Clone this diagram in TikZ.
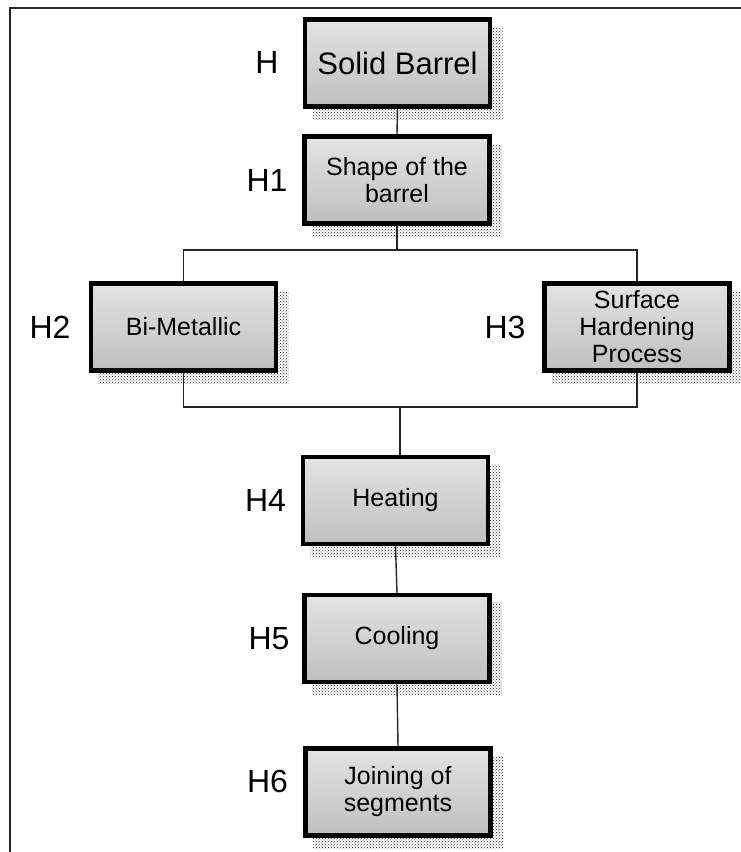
\documentclass[tikz,border=0pt]{standalone}
\usepackage{fontspec}
\setmainfont{Liberation Sans}
\usetikzlibrary{patterns}
\begin{document}
\begin{tikzpicture}[x=1pt,y=-1pt,
  hbox/.style={draw=black,line width=4.5pt,minimum width=185pt,minimum height=87pt,
    top color=gray!22,bottom color=gray!50,align=center,font=\fontsize{25}{27}\selectfont,inner sep=2pt},
  hlabel/.style={font=\fontsize{32}{34}\selectfont,inner sep=0pt},
  link/.style={draw=black!85,line width=1.4pt},
  shadowbox/.style={pattern=crosshatch dots,pattern color=black!85}
]
\useasboundingbox (0,0) rectangle (741,852);
\draw[line width=1.5pt,black!85] (10,852) -- (10,8) -- (741,8);

% shadows
\foreach \cx/\cy in {397.5/63,397/180,183.5/327,637/327,395.5/500.5,397/638.5,398/792}{
  \fill[shadowbox] (\cx-85,\cy-36) rectangle (\cx+105,\cy+56);
}

\node[hbox,font=\fontsize{31}{33}\selectfont] (solid) at (397.5,63) {Solid Barrel};
\node[hbox] (shape) at (397,180) {Shape of the\\barrel};
\node[hbox] (bimet) at (183.5,327) {Bi-Metallic};
\node[hbox] (surf) at (637,327) {Surface\\Hardening\\Process};
\node[hbox] (heat) at (395.5,500.5) {Heating};
\node[hbox] (cool) at (397,638.5) {Cooling};
\node[hbox] (join) at (398,792) {Joining of\\segments};

\node[hlabel] (lH) at (267,62) {H};
\node[hlabel] (lH1) at (267,180) {H1};
\node[hlabel] (lH2) at (50,327) {H2};
\node[hlabel] (lH3) at (505,327) {H3};
\node[hlabel] (lH4) at (265.5,500) {H4};
\node[hlabel] (lH5) at (269,639) {H5};
\node[hlabel] (lH6) at (267.5,781) {H6};

\coordinate (j1) at (397,250);
\coordinate (j2) at (400,407);
\draw[link] (solid.south) -- (shape.north);
\draw[link] (shape.south) -- (j1);
\draw[link] (bimet.north) |- (j1) -| (surf.north);
\draw[link] (bimet.south) |- (j2) -| (surf.south);
\draw[link] (j2) -- (j2 |- heat.north);
\draw[link] (heat.south) -- (cool.north);
\draw[link] (cool.south) -- (join.north);
\end{tikzpicture}
\end{document}
